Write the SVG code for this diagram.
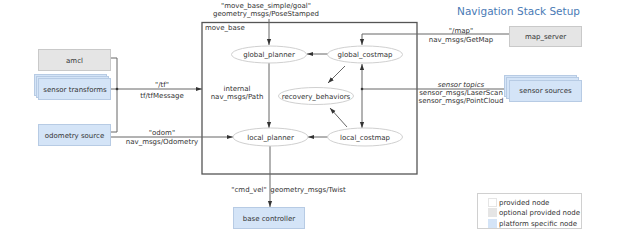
<svg xmlns="http://www.w3.org/2000/svg" width="624" height="240" viewBox="0 0 624 240">
<defs>
<marker id="ah" viewBox="0 0 10 10" refX="10" refY="5" markerWidth="6" markerHeight="6" orient="auto" markerUnits="userSpaceOnUse"><path d="M0,1.5 L10,5 L0,8.5 z" fill="#333"/></marker>
<style>
text{font-family:"DejaVu Sans",Verdana,sans-serif;font-size:7px;fill:#333}
.c{text-anchor:middle}
.grey{fill:#e5e5e5;stroke:#c9c9c9;stroke-width:1}
.blue{fill:#d4e4f7;stroke:#b7cbe4;stroke-width:1}
.ell{fill:#fff;stroke:#d0d0d0;stroke-width:1}
.ln{fill:none;stroke:#666;stroke-width:1}
.ar{fill:none;stroke:#666;stroke-width:1;marker-end:url(#ah)}
</style>
</defs>
<rect width="624" height="240" fill="#fff"/>
<text x="580" y="15" style="font-size:10.5px;fill:#4a7ab5;text-anchor:end">Navigation Stack Setup</text>

<g id="move_base">
<rect x="202" y="22.5" width="215" height="151.5" fill="none" stroke="#555" stroke-width="1.3"/>
<text x="205" y="30">move_base</text>
</g>

<g id="connectors">
<path class="ar" d="M269,19 V45"/>
<path class="ar" d="M328,54 H307"/>
<path class="ar" d="M345,66 L328,83"/>
<path class="ar" d="M347,127 L330,108"/>
<path class="ar" d="M269,63 V128"/>
<path class="ar" d="M328,137 H308"/>
<path class="ar" d="M270,146 V207"/>
<path class="ar" d="M509,34 H362 V45"/>
<path class="ln" d="M504,89 H362"/>
<path class="ar" d="M362,89 V64"/>
<path class="ar" d="M362,89 V128"/>
<circle cx="362" cy="89" r="1.3" fill="#333"/>
<path class="ln" d="M111,58 H117 V132 H111"/>
<path class="ar" d="M111,89 H202"/>
<circle cx="117" cy="89" r="1.3" fill="#333"/>
<path class="ar" d="M111,137 H233"/>
</g>

<g id="labels">
<text class="c" x="266" y="8">"move_base_simple/goal"</text>
<text class="c" x="266" y="16">geometry_msgs/PoseStamped</text>
<text class="c" x="237" y="91">internal</text>
<text class="c" x="237" y="99">nav_msgs/Path</text>
<text class="c" x="461" y="33">"/map"</text>
<text class="c" x="461" y="42">nav_msgs/GetMap</text>
<text class="c" x="461" y="87" font-style="italic">sensor topics</text>
<text class="c" x="461" y="95">sensor_msgs/LaserScan</text>
<text class="c" x="461" y="103">sensor_msgs/PointCloud</text>
<text class="c" x="162" y="87">"/tf"</text>
<text class="c" x="162" y="98">tf/tfMessage</text>
<text class="c" x="162" y="135">"odom"</text>
<text class="c" x="162" y="144">nav_msgs/Odometry</text>
<text class="c" x="249" y="192">"cmd_vel"</text>
<text class="c" x="308" y="192">geometry_msgs/Twist</text>
</g>

<g id="global_planner"><ellipse class="ell" cx="269" cy="54.5" rx="37.5" ry="8.5"/><text class="c" x="269" y="57">global_planner</text></g>
<g id="global_costmap"><ellipse class="ell" cx="365" cy="54.5" rx="37.5" ry="8.5"/><text class="c" x="365" y="57">global_costmap</text></g>
<g id="recovery_behaviors"><ellipse class="ell" cx="316" cy="96" rx="37.5" ry="8.5"/><text class="c" x="316" y="98.5">recovery_behaviors</text></g>
<g id="local_planner"><ellipse class="ell" cx="270.5" cy="137" rx="37.5" ry="9"/><text class="c" x="270.5" y="139.5">local_planner</text></g>
<g id="local_costmap"><ellipse class="ell" cx="365" cy="137" rx="37.5" ry="9"/><text class="c" x="365" y="139.5">local_costmap</text></g>

<g id="amcl"><rect class="grey" x="38.5" y="49.5" width="72" height="21"/><text class="c" x="74.5" y="62.5">amcl</text></g>
<g id="sensor_transforms">
<rect class="blue" x="34.5" y="74.5" width="72" height="21"/>
<rect class="blue" x="36.5" y="76.5" width="72" height="21"/>
<rect class="blue" x="38.5" y="78.5" width="72" height="21"/>
<text class="c" x="75" y="91.5">sensor transforms</text></g>
<g id="odometry_source"><rect class="blue" x="38.5" y="124.5" width="72" height="21"/><text class="c" x="74.5" y="137.5">odometry source</text></g>
<g id="map_server"><rect class="grey" x="509.5" y="26.5" width="72" height="20"/><text class="c" x="545.5" y="38.5">map_server</text></g>
<g id="sensor_sources">
<rect class="blue" x="504.5" y="75.5" width="72" height="21"/>
<rect class="blue" x="506.5" y="77.5" width="72" height="21"/>
<rect class="blue" x="509.5" y="80.5" width="72" height="21"/>
<text class="c" x="545.5" y="93">sensor sources</text></g>
<g id="base_controller"><rect class="blue" x="233.5" y="207.5" width="71" height="21"/><text class="c" x="269" y="220.5">base controller</text></g>

<g id="legend">
<rect x="477.5" y="193.5" width="104" height="35" fill="#fff" stroke="#d0d0d0"/>
<rect x="488.5" y="198.5" width="8" height="8" fill="#fff" stroke="#e5e5e5"/>
<rect x="488" y="208" width="9" height="9" fill="#e5e5e5"/>
<rect x="488" y="219" width="9" height="9" fill="#d4e4f7"/>
<text x="499" y="205">provided node</text>
<text x="499" y="215">optional provided node</text>
<text x="499" y="225.5">platform specific node</text>
</g>
</svg>
